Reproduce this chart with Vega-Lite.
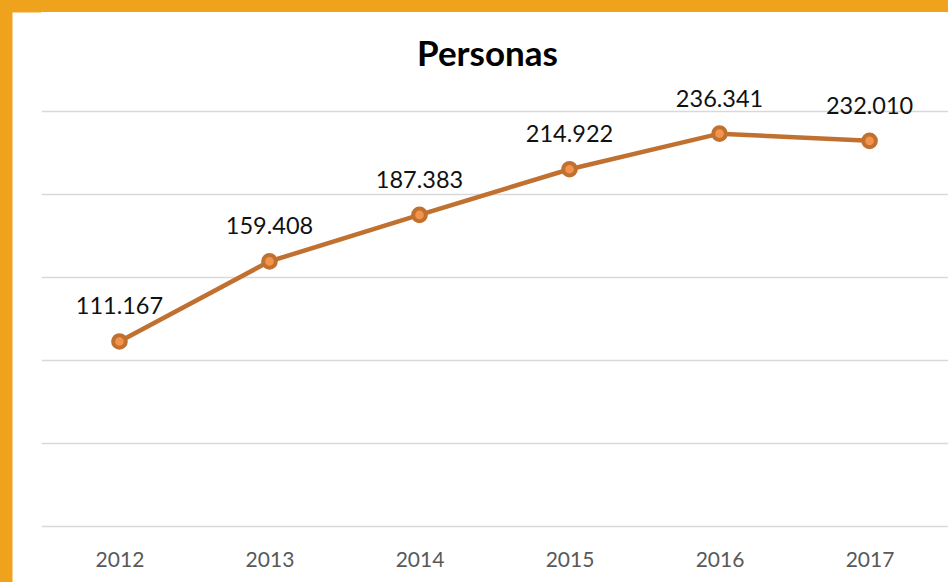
{
  "$schema": "https://vega.github.io/schema/vega-lite/v6.json",
  "width": 907,
  "height": 570,
  "autosize": "none",
  "padding": {"left": 41, "top": 12, "right": 0, "bottom": 0},
  "background": "#EFA21B",
  "title": {
    "text": "Personas",
    "font": "Lato",
    "fontSize": 35,
    "fontWeight": "bold",
    "color": "#000000",
    "anchor": "middle",
    "offset": -61,
    "dx": -7
  },
  "data": {
    "values": [
      {"year": "2012", "personas": 111167},
      {"year": "2013", "personas": 159408},
      {"year": "2014", "personas": 187383},
      {"year": "2015", "personas": 214922},
      {"year": "2016", "personas": 236341},
      {"year": "2017", "personas": 232010}
    ]
  },
  "encoding": {
    "x": {
      "field": "year",
      "type": "ordinal",
      "scale": {"type": "point", "padding": 0.523},
      "axis": {
        "title": null,
        "orient": "bottom",
        "offset": -56,
        "domain": false,
        "ticks": false,
        "grid": false,
        "labelAngle": 0,
        "labelFont": "Lato",
        "labelFontSize": 21,
        "labelColor": "#595959",
        "labelPadding": 23
      }
    },
    "y": {
      "field": "personas",
      "type": "quantitative",
      "scale": {"domain": [-33735, 309639], "nice": false, "zero": false},
      "axis": {
        "title": null,
        "values": [0, 50000, 100000, 150000, 200000, 250000],
        "labels": false,
        "ticks": false,
        "grid": true,
        "gridColor": "#D9D9D9",
        "gridWidth": 1.5,
        "domain": true,
        "domainColor": "#FFFFFF",
        "domainWidth": 29,
        "offset": 14.5
      }
    }
  },
  "layer": [
    {
      "mark": {"type": "line", "color": "#C0702F", "strokeWidth": 4.5}
    },
    {
      "mark": {"type": "point", "filled": true, "fill": "#F4944C", "stroke": "#C0702F", "strokeWidth": 4, "size": 160, "opacity": 1}
    },
    {
      "mark": {"type": "text", "dy": -34, "baseline": "middle", "font": "Lato", "fontSize": 23.5, "color": "#111111"},
      "encoding": {
        "text": {"field": "personas", "type": "quantitative", "format": ",.0f"}
      }
    }
  ],
  "config": {
    "view": {"fill": "#FFFFFF", "stroke": null},
    "locale": {
      "number": {"decimal": ",", "thousands": ".", "grouping": [3], "currency": ["", " €"]}
    }
  }
}
